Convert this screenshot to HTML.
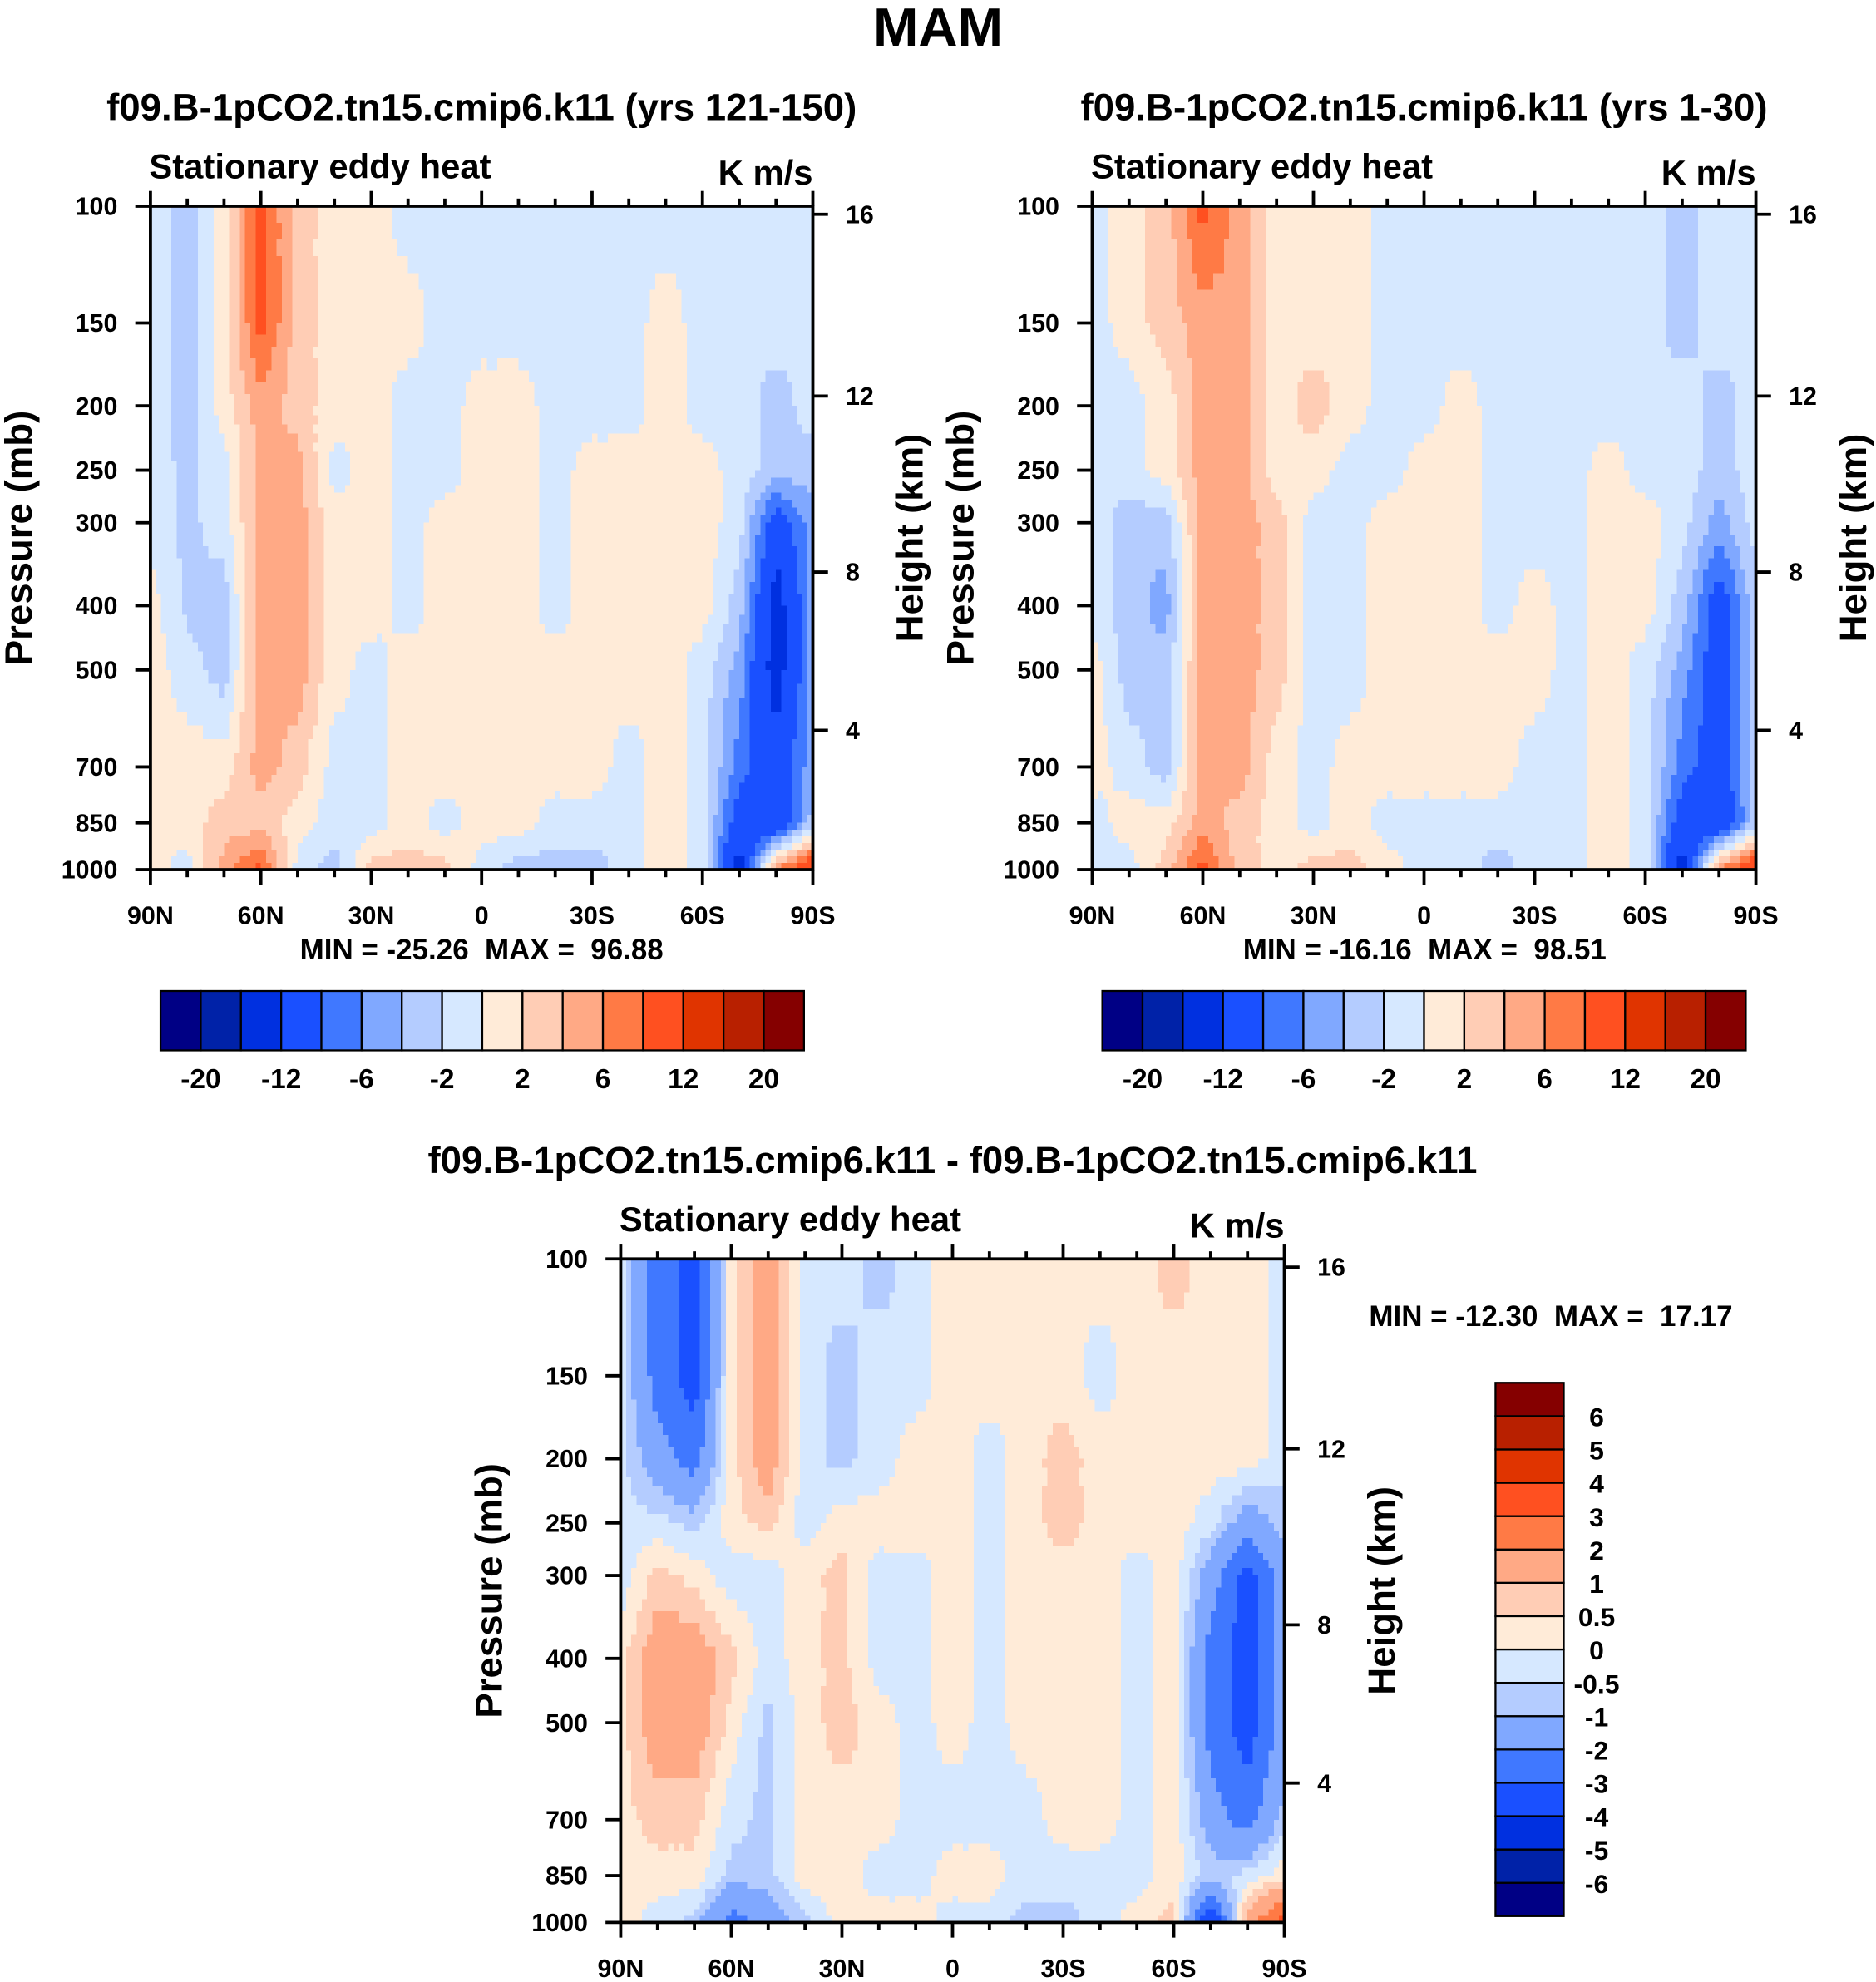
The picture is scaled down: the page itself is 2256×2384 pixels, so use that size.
<!DOCTYPE html>
<html><head><meta charset="utf-8"><style>
html,body{margin:0;padding:0;background:#fff}
svg{display:block}
text{font-family:"Liberation Sans",Arial,sans-serif;font-weight:bold;fill:#000;white-space:pre}
</style></head><body>
<svg id="fig" width="2256" height="2384" viewBox="0 0 1484 1568" xmlns="http://www.w3.org/2000/svg">
<text x="742" y="36" font-size="43" text-anchor="middle">MAM</text>
<g id="root"></g>
</svg>
<script>
const lats=[90,80,70,60,50,40,30,20,10,0,-10,-20,-30,-40,-50,-60,-70,-80,-90];
const plevs=[100,150,200,250,300,400,500,700,850,1000];
const pTickLabels=["100","150","200","250","300","400","500","700","850","1000"];
const hTicks=[16,12,8,4];
const xTickLabels=["90N","60N","30N","0","30S","60S","90S"];
const absLevels=[-20,-16,-12,-8,-6,-4,-2,0,2,4,6,8,12,16,20];
const absLabels=["-20","-12","-6","-2","2","6","12","20"];
const difLevels=[-6,-5,-4,-3,-2,-1,-0.5,0,0.5,1,2,3,4,5,6];
const difLabels=["-6","-5","-4","-3","-2","-1","-0.5","0","0.5","1","2","3","4","5","6"];
const colors=["#000085","#0022a8","#0030e0","#1a50ff","#4078ff","#80a8ff","#b4ccff","#d6e8ff","#ffebd8","#ffcdb5","#ffa985","#ff7a45","#ff5020","#e03400","#b82000","#850000"];
// columns: lat 90N..90S ; each row value per pressure level 100..1000
const panel1=[
[-1,-1,-1,-1,-1,1,1,1,1,1],
[-3,-3,-3,-2.5,-2.5,-2.5,-1,1,1,-1],
[1,1,1,-1,-1,-3,-3,1,3,5],
[9,9,5,5,5,5,5,5,3,9],
[3,3,3,5,5,5,5,3,1,-1],
[1,1,1,-1,1,1,1,-1,-1,-3],
[1,1,1,1,1,1,-1,-1,-1,3],
[-1,1,-1,-1,-1,-1,1,1,1,3],
[-1,-1,-1,-1,1,1,1,1,-1,3],
[-1,-1,1,1,1,1,1,1,1,-1],
[-1,-1,1,1,1,1,1,1,1,-3],
[-1,-1,-1,-1,-1,-1,1,1,-1,-3],
[-1,-1,-1,1,1,1,1,1,-1,-3],
[-1,-1,-1,1,1,1,1,-1,-1,-1],
[-1,1,1,1,1,1,1,1,1,1],
[-1,-1,-1,1,1,1,-1,-1,-1,-1],
[-1,-1,-1,-1,-1,-3,-5,-7,-10,-14],
[-1,-1,-3,-3,-10,-14,-14,-10,-12,6],
[-1,-1,-1,-3,-5,-5,-5,-5,-3,12]];
const panel2=[
[-1,-1,-1,-1,-1,-1,1,1,-1,-1],
[1,1,-1,-1,-3,-3,-3,-1,1,-1],
[3,3,1,1,-3,-5,-3,-3,1,3],
[9,5,5,5,5,5,5,5,5,9],
[5,5,5,5,5,5,5,5,3,3],
[1,1,1,1,3,3,3,1,1,1],
[1,1,3,1,-1,-1,-1,-1,-1,3],
[1,1,1,-1,-1,-1,-1,1,1,3],
[-1,-1,-1,-1,1,1,1,1,-1,1],
[-1,-1,-1,1,1,1,1,1,-1,-1],
[-1,-1,1,1,1,1,1,1,-1,-1],
[-1,-1,-1,-1,-1,-1,1,1,-1,-3],
[-1,-1,-1,-1,-1,1,1,-1,-1,-1],
[-1,-1,-1,-1,-1,-1,-1,-1,-1,-1],
[-1,-1,-1,1,1,1,1,1,1,1],
[-1,-1,-1,-1,1,1,-1,-1,-1,-1],
[-3,-3,-1,-1,-1,-3,-5,-7,-10,-14],
[-1,-1,-3,-3,-5,-10,-10,-10,-12,6],
[-1,-1,-1,-1,-1,-3,-3,-3,-3,12]];
const panel3=[
[-0.3,-0.3,-0.3,-0.3,-0.3,0.3,0.3,0.3,0.3,0.3],
[-2.5,-2.5,-1.5,-0.3,0.7,1.5,1.5,0.7,0.3,-0.3],
[-3.5,-3.5,-2.5,-0.7,0.3,1.5,1.5,0.7,0.3,-0.7],
[0.3,0.3,0.3,0.3,-0.3,0.7,0.3,-0.3,-0.7,-2.5],
[1.5,1.5,1.5,0.7,-0.3,-0.3,-0.7,-0.7,-0.7,-1.5],
[-0.3,-0.3,-0.3,-0.3,0.3,0.3,0.3,0.3,0.3,-0.7],
[-0.3,-0.7,-0.7,0.3,0.7,0.7,0.7,0.3,0.3,0.3],
[-0.7,-0.3,-0.3,0.3,-0.3,-0.3,0.3,0.3,-0.3,0.3],
[-0.3,-0.3,0.3,0.3,-0.3,-0.3,-0.3,-0.3,-0.3,0.3],
[0.3,0.3,0.3,0.3,0.3,0.3,0.3,-0.3,0.3,-0.3],
[0.3,0.3,-0.3,-0.3,-0.3,-0.3,-0.3,-0.3,0.3,-0.3],
[0.3,0.3,0.3,0.3,0.3,0.3,0.3,-0.3,-0.3,-0.7],
[0.3,0.3,0.7,0.7,0.3,0.3,0.3,0.3,-0.3,-0.7],
[0.3,-0.3,0.3,0.3,0.3,0.3,0.3,0.3,-0.3,-0.3],
[0.3,0.3,0.3,0.3,-0.3,-0.3,-0.3,-0.3,-0.3,0.3],
[0.7,0.3,0.3,0.3,0.3,0.3,0.3,0.3,0.3,0.7],
[0.3,0.3,0.3,-0.3,-1.5,-2.5,-2.5,-1.5,-0.7,-4.5],
[0.3,0.3,0.3,-1.5,-3.5,-3.5,-3.5,-2.5,-0.3,1.5],
[-0.3,-0.3,-0.3,-0.7,-1.5,-1.5,-1.5,-0.7,0.3,3.5]];

const NS="http://www.w3.org/2000/svg";
const root=document.getElementById('root');
function mk(tag,attrs,parent,txt){const e=document.createElementNS(NS,tag);for(const k in attrs)e.setAttribute(k,attrs[k]);if(txt!==undefined)e.textContent=txt;(parent||root).appendChild(e);return e;}
function colorFor(v,levels){let i=0;while(i<levels.length&&v>=levels[i])i++;return colors[i];}
function stdP(hkm){const h=hkm*1000;if(h<=11000)return 1013.25*Math.pow(1-2.25577e-5*h,5.25588);return 226.32*Math.exp(-(h-11000)/6341.6);}
const SUB=7;
function panel(x0,y0,W,H,data,levels,title,id){
  const g=mk('g',{});
  
  
  const xs=lat=>x0+(90-lat)/180*W;
  const ys=p=>y0+(Math.log(p)-Math.log(100))/(Math.log(1000)-Math.log(100))*H;
  for(let i=0;i<lats.length-1;i++){
    const xa=xs(lats[i]),xb=xs(lats[i+1]);
    for(let j=0;j<plevs.length-1;j++){
      const ya=ys(plevs[j]),yb=ys(plevs[j+1]);
      for(let a=0;a<SUB;a++)for(let b=0;b<SUB;b++){
        const u=(a+0.5)/SUB,v=(b+0.5)/SUB;
        const val=(1-u)*(1-v)*data[i][j]+u*(1-v)*data[i+1][j]+(1-u)*v*data[i][j+1]+u*v*data[i+1][j+1];
        const cw=(xb-xa)/SUB,ch=(yb-ya)/SUB;
        const r=mk('rect',{x:xa+a*cw,y:ya+b*ch,width:cw+0.4,height:ch+0.4,fill:colorFor(val,levels),'shape-rendering':'crispEdges'},g);
        
        
      }
    }
  }
  const fr=mk('rect',{x:x0,y:y0,width:W,height:H,fill:'none',stroke:'#000','stroke-width':2.5},g);
  
  
  for(let k=0;k<plevs.length;k++){
    const y=ys(plevs[k]);
    mk('line',{x1:x0-12,x2:x0,y1:y,y2:y,stroke:'#000','stroke-width':2.5},g);
    const t=mk('text',{x:x0-26,y:y+7,'font-size':20,'text-anchor':'end'},g,pTickLabels[k]);
    
    
  }
  for(const h of hTicks){
    const y=ys(stdP(h));
    mk('line',{x1:x0+W,x2:x0+W+12,y1:y,y2:y,stroke:'#000','stroke-width':2.5},g);
    const t=mk('text',{x:x0+W+26,y:y+7,'font-size':20},g,String(h));
    
    
  }
  for(let l=90;l>=-90;l-=10){
    const x=xs(l);const major=(l%30==0);const len=major?12:6;
    mk('line',{x1:x,x2:x,y1:y0+H,y2:y0+H+len,stroke:'#000','stroke-width':2.5},g);
    mk('line',{x1:x,x2:x,y1:y0,y2:y0-len,stroke:'#000','stroke-width':2.5},g);
  }
  xTickLabels.forEach((s,k)=>{
    const t=mk('text',{x:xs(90-k*30),y:y0+H+43,'font-size':20,'text-anchor':'middle'},g,s);
    
    
  });
  let t=mk('text',{x:x0+W/2,y:y0-68,'font-size':30,'text-anchor':'middle'},g,title);
  
  
  t=mk('text',{x:x0-1,y:y0-22,'font-size':27.5},g,'Stationary eddy heat');
  
  
  t=mk('text',{x:x0+W,y:y0-17,'font-size':27.5,'text-anchor':'end'},g,'K m/s');
  
  
  t=mk('text',{x:x0-94,y:y0+H/2,'font-size':30,'text-anchor':'middle',transform:`rotate(-90 ${x0-94} ${y0+H/2})`},g,'Pressure (mb)');
  
  
  t=mk('text',{x:x0+W+87,y:y0+H/2,'font-size':30,'text-anchor':'middle',transform:`rotate(-90 ${x0+W+87} ${y0+H/2})`},g,'Height (km)');
  
  
}
panel(119,163,524,525,panel1,absLevels,'f09.B-1pCO2.tn15.cmip6.k11 (yrs 121-150)','panel-1');
panel(864,163,525,525,panel2,absLevels,'f09.B-1pCO2.tn15.cmip6.k11 (yrs 1-30)','panel-2');
panel(491,996,525,525,panel3,difLevels,'f09.B-1pCO2.tn15.cmip6.k11 - f09.B-1pCO2.tn15.cmip6.k11','panel-diff');

function stat(x,y,s,anchor,name){const t=mk('text',{x:x,y:y,'font-size':23,'text-anchor':anchor},root,s);
  
  }
stat(381,759,'MIN = -25.26  MAX =  96.88','middle','minmax-1');
stat(1127,759,'MIN = -16.16  MAX =  98.51','middle','minmax-2');
stat(1083,1049,'MIN = -12.30  MAX =  17.17','start','minmax-diff');

function hbar(x0,y0,W,H,name){
  const g=mk('g',{});
  
  
  const bw=W/colors.length;
  colors.forEach((c,i)=>{const r=mk('rect',{x:x0+i*bw,y:y0,width:bw,height:H,fill:c,stroke:'#000','stroke-width':1.5},g);
    
    });
  absLabels.forEach((s,k)=>{const t=mk('text',{x:x0+(1+2*k)*bw,y:y0+H+30,'font-size':22,'text-anchor':'middle'},g,s);
    
    });
}
hbar(127,784,509,47,'colorbar-1');
hbar(872,784,509,47,'colorbar-2');
(function(){
  const x0=1183,y0=1094,W=54,H=422;
  const g=mk('g',{});
  
  
  const bh=H/colors.length;
  colors.forEach((c,i)=>{const r=mk('rect',{x:x0,y:y0+H-(i+1)*bh,width:W,height:bh,fill:c,stroke:'#000','stroke-width':1.5},g);
    
    });
  difLabels.forEach((s,k)=>{const t=mk('text',{x:1263,y:y0+H-(k+1)*bh+8,'font-size':21,'text-anchor':'middle'},g,s);
    
    });
})();
</script>
</body></html>
